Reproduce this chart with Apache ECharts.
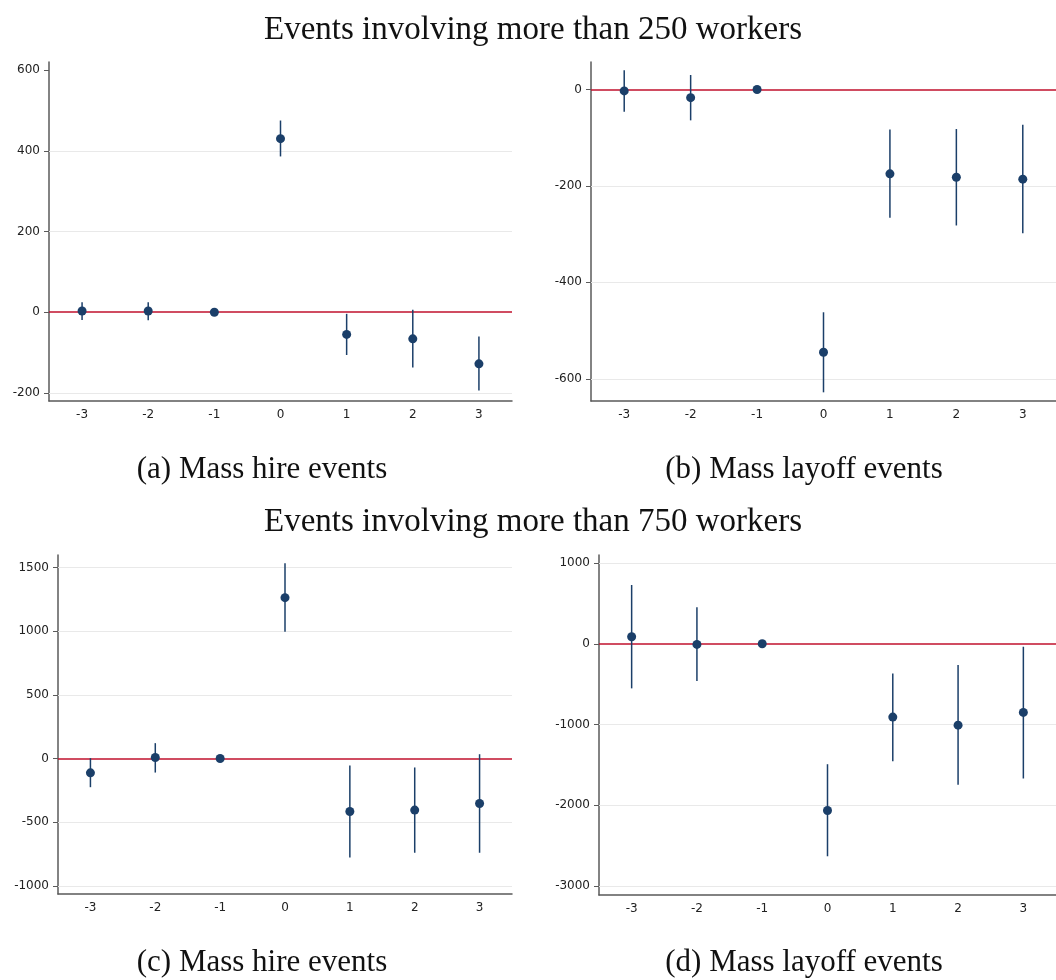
<!DOCTYPE html>
<html>
<head>
<meta charset="utf-8">
<script src="https://cdn.jsdelivr.net/npm/echarts@6/dist/echarts.min.js"></script>
<style>
  html, body { margin: 0; padding: 0; background: #fff; }
  #chart { width: 1056px; height: 980px; }
</style>
</head>
<body>
<div id="chart"></div>
<script>
// event time (x categories)
const offsets = ['-3', '-2', '-1', '0', '1', '2', '3'];

// (a) mass hire, > 250 workers
const hire250 = [3, 3, 0, 430, -55, -66, -128];
const hire250Lo = [-19, -20, null, 386, -106, -137, -194];
const hire250Hi = [25, 25, null, 475, -4, 6, -60];
const hire250Ticks = [-200, 0, 200, 400, 600];
const hire250Grid = [-200, 200, 400];

// (b) mass layoff, > 250 workers
const layoff250 = [-3, -17, 0, -545, -175, -182, -186];
const layoff250Lo = [-46, -64, null, -628, -266, -282, -298];
const layoff250Hi = [40, 30, null, -462, -83, -82, -73];
const layoff250Ticks = [-600, -400, -200, 0];
const layoff250Grid = [-600, -400, -200];

// (c) mass hire, > 750 workers
const hire750 = [-112, 8, 0, 1264, -416, -405, -353];
const hire750Lo = [-225, -110, null, 997, -777, -740, -740];
const hire750Hi = [3, 121, null, 1534, -55, -70, 34];
const hire750Ticks = [-1000, -500, 0, 500, 1000, 1500];
const hire750Grid = [-1000, -500, 500, 1000, 1500];

// (d) mass layoff, > 750 workers
const layoff750 = [87, -8, 0, -2067, -909, -1009, -851];
const layoff750Lo = [-553, -463, null, -2634, -1455, -1749, -1670];
const layoff750Hi = [728, 451, null, -1493, -368, -264, -37];
const layoff750Ticks = [-3000, -2000, -1000, 0, 1000];
const layoff750Grid = [-3000, -2000, -1000, 1000];

const dotColor = '#1b3f69';
const zeroColor = '#c0102c';
const axisColor = '#5a5a5a';

const panels = [
  { vals: hire250, lo: hire250Lo, hi: hire250Hi, ticks: hire250Ticks, grid: hire250Grid,
    min: -220, max: 620, box: { left: 49, top: 62, width: 463, height: 339 } },
  { vals: layoff250, lo: layoff250Lo, hi: layoff250Hi, ticks: layoff250Ticks, grid: layoff250Grid,
    min: -646, max: 57, box: { left: 591, top: 62, width: 466, height: 339 } },
  { vals: hire750, lo: hire750Lo, hi: hire750Hi, ticks: hire750Ticks, grid: hire750Grid,
    min: -1064, max: 1599, box: { left: 58, top: 555, width: 454, height: 339 } },
  { vals: layoff750, lo: layoff750Lo, hi: layoff750Hi, ticks: layoff750Ticks, grid: layoff750Grid,
    min: -3114, max: 1100, box: { left: 599, top: 555, width: 458, height: 340 } }
];

const texts = [
  { text: 'Events involving more than 250 workers', x: 533, y: 30, size: 33 },
  { text: '(a) Mass hire events', x: 262, y: 470, size: 31 },
  { text: '(b) Mass layoff events', x: 804, y: 470, size: 31 },
  { text: 'Events involving more than 750 workers', x: 533, y: 522, size: 33 },
  { text: '(c) Mass hire events', x: 262, y: 963, size: 31 },
  { text: '(d) Mass layoff events', x: 804, y: 963, size: 31 }
];

const grids = [], xAxes = [], yAxes = [], series = [];

panels.forEach(function (p, k) {
  grids.push(Object.assign({ containLabel: false }, p.box));
  xAxes.push({
    type: 'category',
    gridIndex: k,
    data: offsets,
    boundaryGap: true,
    axisLine: { onZero: false, lineStyle: { color: axisColor, width: 1.5 } },
    axisTick: { alignWithLabel: true, length: 5, lineStyle: { color: axisColor } },
    axisLabel: { color: '#222', fontFamily: 'DejaVu Sans', fontSize: 12, margin: 8 },
    splitLine: { show: false }
  });
  yAxes.push({
    type: 'value',
    gridIndex: k,
    min: p.min,
    max: p.max,
    axisLine: { show: true, onZero: false, lineStyle: { color: axisColor, width: 1.5 } },
    axisTick: { show: true, length: 5, customValues: p.ticks, lineStyle: { color: axisColor } },
    axisLabel: {
      color: '#222', fontFamily: 'DejaVu Sans', fontSize: 12, margin: 9,
      customValues: p.ticks,
      formatter: function (v) { return String(v); }
    },
    splitLine: { show: false }
  });

  // grid lines and the red zero line
  series.push({
    type: 'line',
    xAxisIndex: k,
    yAxisIndex: k,
    data: [],
    silent: true,
    z: 1,
    markLine: {
      symbol: 'none',
      silent: true,
      z: 1,
      animation: false,
      label: { show: false },
      data: p.grid.map(function (v) {
        return { yAxis: v, lineStyle: { color: '#e9e9e9', width: 1, type: 'solid' } };
      }).concat([{ yAxis: 0, lineStyle: { color: zeroColor, width: 1.5, type: 'solid' } }])
    }
  });

  // confidence intervals
  const ci = [];
  p.lo.forEach(function (lo, i) {
    if (lo !== null) ci.push([i, lo, p.hi[i]]);
  });
  series.push({
    type: 'custom',
    xAxisIndex: k,
    yAxisIndex: k,
    z: 3,
    data: ci,
    renderItem: function (params, api) {
      const a = api.coord([api.value(0), api.value(1)]);
      const b = api.coord([api.value(0), api.value(2)]);
      return {
        type: 'line',
        shape: { x1: a[0], y1: a[1], x2: b[0], y2: b[1] },
        style: { stroke: dotColor, lineWidth: 1.5 }
      };
    }
  });

  // point estimates
  series.push({
    type: 'scatter',
    xAxisIndex: k,
    yAxisIndex: k,
    z: 4,
    symbolSize: 9,
    itemStyle: { color: dotColor, opacity: 1, borderWidth: 0 },
    data: p.vals.map(function (v, i) { return [i, v]; })
  });
});

const chart = echarts.init(document.getElementById('chart'));
chart.setOption({
  backgroundColor: '#fff',
  animation: false,
  grid: grids,
  xAxis: xAxes,
  yAxis: yAxes,
  series: series,
  graphic: texts.map(function (t) {
    return {
      type: 'text',
      x: t.x,
      y: t.y,
      style: {
        text: t.text,
        align: 'center',
        verticalAlign: 'middle',
        fontFamily: 'Liberation Serif',
        fontSize: t.size,
        fill: '#111'
      }
    };
  })
});
</script>
</body>
</html>
